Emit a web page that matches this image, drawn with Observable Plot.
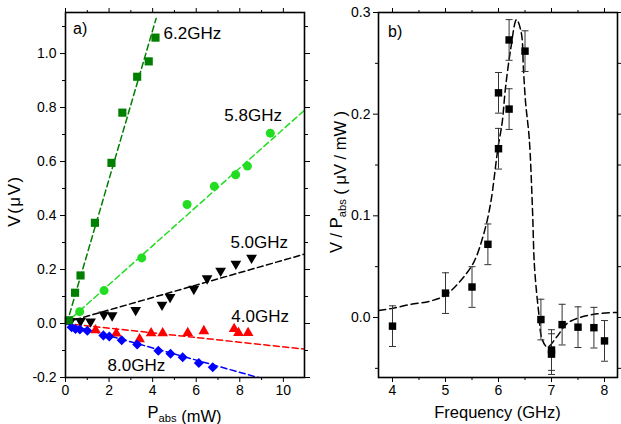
<!DOCTYPE html>
<html><head><meta charset="utf-8">
<script src="https://cdn.jsdelivr.net/npm/d3@7"></script>
<script src="https://cdn.jsdelivr.net/npm/@observablehq/plot@0.6"></script>
<style>
body{margin:0;background:#fff;}
#wrap{display:flex;width:621px;height:424px;overflow:hidden;background:#fff;}
svg{display:block;}
</style></head><body><div id="wrap"></div>
<script>
const FONT = "'Liberation Sans', Arial, Helvetica, sans-serif";

// ---------- Panel a) : V vs P_abs ----------
const p62 = [0.15, 0.44, 0.69, 1.35, 2.11, 2.61, 3.29, 3.82, 4.13];
const v62 = [0.012, 0.114, 0.178, 0.373, 0.595, 0.781, 0.914, 0.971, 1.059];
const fit62P = [0.06, 4.16];
const fit62V = [0.0, 1.13];

const p58 = [0.65, 1.77, 3.5, 5.58, 6.83, 7.81, 8.35, 9.40];
const v58 = [0.044, 0.122, 0.243, 0.441, 0.508, 0.551, 0.583, 0.705];
const fit58P = [0.0, 10.97];
const fit58V = [0.0, 0.79];

const p50 = [0.23, 0.69, 1.15, 1.76, 2.14, 3.22, 4.43, 4.80, 5.89, 6.5, 7.12, 7.82, 8.54];
const v50 = [0.009, 0.009, 0.007, 0.033, 0.030, 0.050, 0.069, 0.098, 0.128, 0.167, 0.195, 0.221, 0.243];
const fit50P = [0.0, 10.97];
const fit50V = [0.004, 0.257];

const p40 = [1.38, 2.33, 3.4, 3.93, 4.46, 5.61, 6.35, 7.74, 7.94, 8.38];
const v40 = [-0.025, -0.037, -0.058, -0.036, -0.036, -0.035, -0.028, -0.020, -0.035, -0.035];
const fit40P = [0.0, 10.97];
const fit40V = [0.0, -0.095];

const p80 = [0.28, 0.46, 0.66, 1.0, 1.74, 2.01, 2.58, 3.29, 4.26, 4.82, 5.38, 6.12, 6.76];
const v80 = [-0.014, -0.020, -0.022, -0.027, -0.044, -0.048, -0.062, -0.078, -0.101, -0.112, -0.125, -0.146, -0.162];
const fit80P = [0.0, 8.85];
const fit80V = [0.0, -0.2];

const seriesNames = ["6.2GHz", "5.8GHz", "5.0GHz", "4.0GHz", "8.0GHz"];
const seriesColors = ["#007f00", "#22dd22", "#000000", "#ff0000", "#0000ff"];
const labelP = [4.5, 7.29, 7.57, 7.61, 1.93];
const labelV = [1.074, 0.772, 0.301, 0.025, -0.157];

const xTicksA = [0, 2, 4, 6, 8, 10];
const yTicksA = [-0.2, 0.0, 0.2, 0.4, 0.6, 0.8, 1.0];

// ---------- Panel b) : V/P_abs vs frequency ----------
const freq  = [4.0, 5.0, 5.5, 5.8, 6.0, 6.0, 6.2, 6.2, 6.5, 6.8, 7.0, 7.0, 7.2, 7.5, 7.8, 8.0];
const ratio = [-0.0085, 0.024, 0.030, 0.072, 0.166, 0.221, 0.205, 0.273, 0.262, -0.002, -0.032, -0.036, -0.007, -0.0095, -0.010, -0.023];
const ratioErr = [0.02, 0.02, 0.02, 0.02, 0.02, 0.02, 0.02, 0.02, 0.02, 0.02, 0.02, 0.02, 0.02, 0.02, 0.02, 0.02];

const curveF = [3.74, 4.0, 4.35, 4.7, 5.0, 5.28, 5.53, 5.72, 5.85, 5.99, 6.07, 6.13, 6.23, 6.34, 6.43, 6.47, 6.51, 6.58, 6.64, 6.68, 6.76, 6.82, 6.92, 7.1, 7.29, 7.55, 7.86, 8.245];
const curveV = [0.007, 0.009, 0.013, 0.016, 0.022, 0.036, 0.054, 0.082, 0.112, 0.167, 0.192, 0.225, 0.264, 0.293, 0.28, 0.245, 0.212, 0.176, 0.108, 0.049, 0.004, -0.021, -0.029, -0.019, -0.006, 0.0003, 0.0036, 0.005];

const xTicksB = [4, 5, 6, 7, 8];
const yTicksB = [0.0, 0.1, 0.2, 0.3];

// ---------- build tables ----------
const symbols = ["square", "circle", "triangle", "triangle", "square"];
const rotations = [0, 0, 180, 0, 45];
const radii = [4.6, 4.5, 4.0, 4.0, 4.0];
const pts = [[p62, v62], [p58, v58], [p50, v50], [p40, v40], [p80, v80]];
const fits = [[fit62P, fit62V], [fit58P, fit58V], [fit50P, fit50V], [fit40P, fit40V], [fit80P, fit80V]];

const markerMarks = [];
const fitMarks = [];
pts.forEach(([P, V], i) => {
  const rows = P.map((p, j) => ({p, v: V[j]}));
  markerMarks.push(Plot.dot(rows, {x: "p", y: "v", symbol: symbols[i], rotate: rotations[i], r: radii[i], fill: seriesColors[i], stroke: "none"}));
});
fits.forEach(([P, V], i) => {
  const rows = P.map((p, j) => ({p, v: V[j]}));
  fitMarks.push(Plot.line(rows, {x: "p", y: "v", stroke: seriesColors[i], strokeWidth: 1.5, strokeDasharray: "6,3.5", clip: true}));
});
const labelRows = seriesNames.map((n, i) => ({n, p: labelP[i], v: labelV[i]}));

const empty = () => "";
const styleObj = {fontFamily: FONT, fontSize: "14px", color: "#000", background: "#fff", overflow: "visible"};

const left = Plot.plot({
  width: 310, height: 424,
  marginTop: 12, marginBottom: 47, marginLeft: 65, marginRight: 6,
  style: styleObj,
  x: {domain: [0, 10.97]},
  y: {domain: [-0.2, 1.152]},
  marks: [
    ...fitMarks,
    markerMarks[3], markerMarks[2], markerMarks[4], markerMarks[1], markerMarks[0],
    Plot.text(labelRows, {x: "p", y: "v", text: "n", textAnchor: "start", lineAnchor: "middle", fontSize: 17, fill: "#000"}),
    Plot.axisX({ticks: xTicksA, tickSize: 5, tickPadding: 3, tickFormat: d => String(d), label: null}),
    Plot.axisX({ticks: d3.range(1, 11, 2), tickSize: 3, tickFormat: empty, label: null}),
    Plot.axisX({anchor: "top", ticks: xTicksA, tickSize: 5, tickFormat: empty, label: null}),
    Plot.axisX({anchor: "top", ticks: d3.range(1, 11, 2), tickSize: 3, tickFormat: empty, label: null}),
    Plot.axisY({ticks: yTicksA, tickSize: 5, tickPadding: 4, tickFormat: d => d.toFixed(1), label: null}),
    Plot.axisY({ticks: [-0.1, 0.1, 0.3, 0.5, 0.7, 0.9, 1.1], tickSize: 3, tickFormat: empty, label: null}),
    Plot.axisY({anchor: "right", ticks: yTicksA, tickSize: 5, tickFormat: empty, label: null}),
    Plot.axisY({anchor: "right", ticks: [-0.1, 0.1, 0.3, 0.5, 0.7, 0.9, 1.1], tickSize: 3, tickFormat: empty, label: null}),
    Plot.frame({stroke: "#000", strokeWidth: 1.6})
  ]
});

const cap = {draw(ctx) { ctx.moveTo(-3.5, 0); ctx.lineTo(3.5, 0); }};
const bRows = freq.map((f, i) => ({f, v: ratio[i], e: ratioErr[i]}));
const curveRows = curveF.map((f, i) => ({f, v: curveV[i]}));

const right = Plot.plot({
  width: 311, height: 424,
  marginTop: 12, marginBottom: 47, marginLeft: 68, marginRight: 4,
  style: styleObj,
  x: {domain: [3.736, 8.245]},
  y: {domain: [-0.059, 0.3]},
  marks: [
    Plot.line(curveRows, {x: "f", y: "v", curve: "catmull-rom", stroke: "#000", strokeWidth: 1.5, strokeDasharray: "7,4", clip: true}),
    Plot.ruleX(bRows, {x: "f", y1: d => d.v - d.e, y2: d => d.v + d.e, stroke: "#333", strokeWidth: 1}),
    Plot.dot(bRows, {x: "f", y: d => d.v + d.e, symbol: cap, stroke: "#333", strokeWidth: 1, r: 3}),
    Plot.dot(bRows, {x: "f", y: d => d.v - d.e, symbol: cap, stroke: "#333", strokeWidth: 1, r: 3}),
    Plot.dot(bRows, {x: "f", y: "v", symbol: "square", r: 4.2, fill: "#000", stroke: "none"}),
    Plot.axisX({ticks: xTicksB, tickSize: 5, tickPadding: 3, tickFormat: d => String(d), label: null}),
    Plot.axisX({ticks: [4.5, 5.5, 6.5, 7.5], tickSize: 3, tickFormat: empty, label: null}),
    Plot.axisX({anchor: "top", ticks: xTicksB, tickSize: 5, tickFormat: empty, label: null}),
    Plot.axisX({anchor: "top", ticks: [4.5, 5.5, 6.5, 7.5], tickSize: 3, tickFormat: empty, label: null}),
    Plot.axisY({ticks: yTicksB, tickSize: 5, tickPadding: 3, tickFormat: d => d.toFixed(1), label: null}),
    Plot.axisY({ticks: [-0.05, 0.05, 0.15, 0.25], tickSize: 3, tickFormat: empty, label: null}),
    Plot.axisY({anchor: "right", ticks: yTicksB, tickSize: 5, tickFormat: empty, label: null}),
    Plot.axisY({anchor: "right", ticks: [-0.05, 0.05, 0.15, 0.25], tickSize: 3, tickFormat: empty, label: null}),
    Plot.frame({stroke: "#000", strokeWidth: 1.6})
  ]
});

// ---------- text annotations / axis titles ----------
function addText(svg, x, y, rot, parts, size, anchor = "middle") {
  const t = d3.select(svg).append("text")
    .attr("transform", `translate(${x},${y})` + (rot ? ` rotate(${rot})` : ""))
    .attr("text-anchor", anchor)
    .attr("font-family", FONT)
    .attr("font-size", size)
    .attr("fill", "#000");
  parts.forEach(([s, sub]) => {
    if (sub) {
      t.append("tspan").attr("dy", 4).attr("font-size", size * 0.68).text(s);
      t.append("tspan").attr("dy", -4).text("");
    } else {
      t.append("tspan").text(s);
    }
  });
  return t;
}
addText(left, 184.5, 418, 0, [["P"], ["abs", true], [" (mW)"]], 16.5);
addText(left, 20, 201, -90, [["V(μV)"]], 17).attr("letter-spacing", 1.5);
addText(left, 73, 34, 0, [["a)"]], 16, "start");

addText(right, 187.5, 418, 0, [["Frequency (GHz)"]], 16.5);
addText(right, 32, 182, -90, [["V / P"], ["abs", true], [" ( μV / mW )"]], 16.5);
addText(right, 78, 37, 0, [["b)"]], 16, "start");

document.getElementById("wrap").append(left, right);
</script>
</body></html>
